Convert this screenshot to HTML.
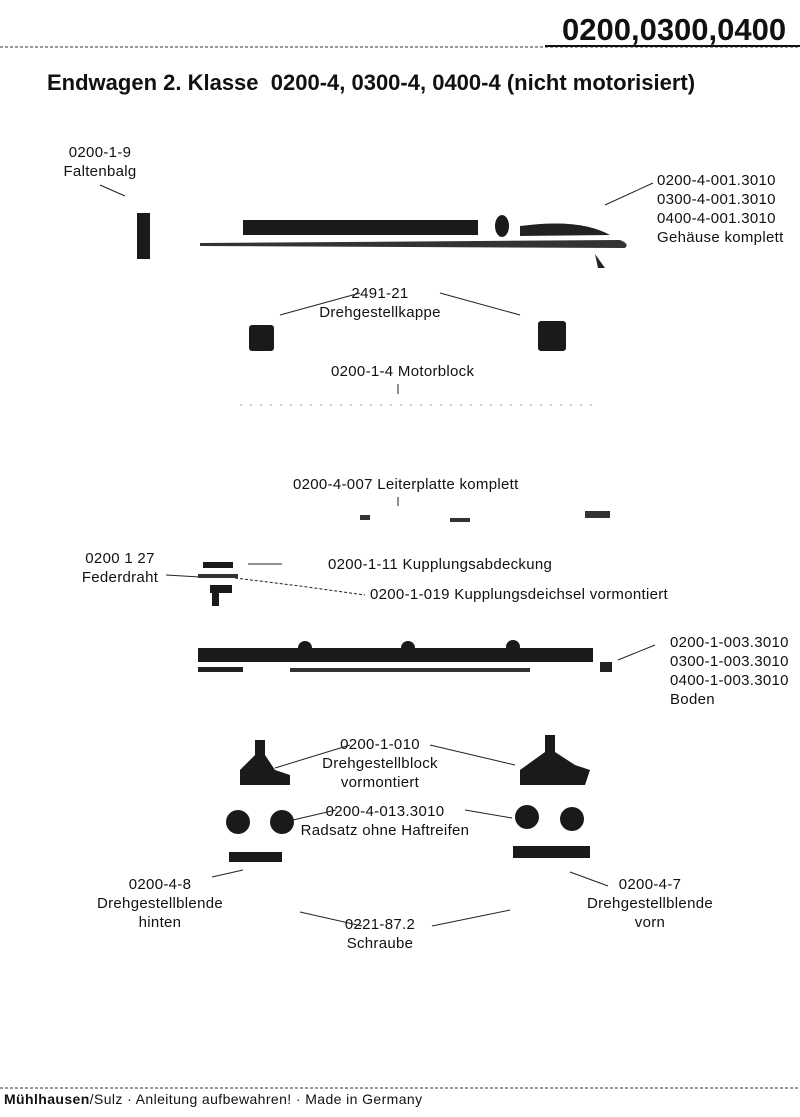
<!DOCTYPE html>
<html><head><meta charset="utf-8"><style>
body{margin:0;width:800px;height:1117px;background:#fff;position:relative;overflow:hidden;font-family:"Liberation Sans",sans-serif;color:#111}
.t{position:absolute;font-size:15px;line-height:19px;white-space:nowrap;letter-spacing:0.3px}
.c{text-align:center}
svg{position:absolute;left:0;top:0}
</style></head><body>
<div class="t" style="left:562px;top:12px;font-size:31px;line-height:36px;font-weight:bold;letter-spacing:0">0200,0300,0400</div>
<div class="t" style="left:47px;top:70px;font-size:22px;line-height:26px;font-weight:bold;letter-spacing:0">Endwagen 2. Klasse&nbsp; 0200-4, 0300-4, 0400-4 (nicht motorisiert)</div>

<div class="t c" style="left:40px;top:143px;width:120px">0200-1-9<br>Faltenbalg</div>
<div class="t" style="left:657px;top:171px">0200-4-001.3010<br>0300-4-001.3010<br>0400-4-001.3010<br>Gehäuse komplett</div>
<div class="t c" style="left:310px;top:284px;width:140px">2491-21<br>Drehgestellkappe</div>
<div class="t" style="left:331px;top:362px">0200-1-4 Motorblock</div>
<div class="t" style="left:293px;top:475px">0200-4-007 Leiterplatte komplett</div>
<div class="t c" style="left:70px;top:549px;width:100px">0200 1 27<br>Federdraht</div>
<div class="t" style="left:328px;top:555px">0200-1-11 Kupplungsabdeckung</div>
<div class="t" style="left:370px;top:585px">0200-1-019 Kupplungsdeichsel vormontiert</div>
<div class="t" style="left:670px;top:633px">0200-1-003.3010<br>0300-1-003.3010<br>0400-1-003.3010<br>Boden</div>
<div class="t c" style="left:310px;top:735px;width:140px">0200-1-010<br>Drehgestellblock<br>vormontiert</div>
<div class="t c" style="left:300px;top:802px;width:170px">0200-4-013.3010<br>Radsatz ohne Haftreifen</div>
<div class="t c" style="left:85px;top:875px;width:150px">0200-4-8<br>Drehgestellblende<br>hinten</div>
<div class="t c" style="left:575px;top:875px;width:150px">0200-4-7<br>Drehgestellblende<br>vorn</div>
<div class="t c" style="left:335px;top:915px;width:90px">0221-87.2<br>Schraube</div>
<div class="t" style="left:4px;top:1090px;font-size:14px;letter-spacing:0.4px"><b>Mühlhausen</b>/Sulz · Anleitung aufbewahren! · Made in Germany</div>

<svg width="800" height="1117">
<line x1="0" y1="47" x2="800" y2="47" stroke="#333" stroke-dasharray="3,2"/>
<line x1="545" y1="46" x2="800" y2="46" stroke="#111" stroke-width="2"/>
<line x1="0" y1="1088" x2="800" y2="1088" stroke="#333" stroke-dasharray="3,2"/>
<g stroke="#222" stroke-width="1" fill="none">
<line x1="100" y1="185" x2="125" y2="196"/>
<line x1="653" y1="183" x2="605" y2="205"/>
<line x1="360" y1="293" x2="280" y2="315"/>
<line x1="440" y1="293" x2="520" y2="315"/>
<line x1="398" y1="384" x2="398" y2="394"/>
<line x1="398" y1="497" x2="398" y2="506"/>
<line x1="248" y1="564" x2="282" y2="564"/>
<line x1="166" y1="575" x2="200" y2="577"/>
<path d="M235 578 L300 586 L365 595" stroke-dasharray="3,2"/>
<line x1="655" y1="645" x2="618" y2="660"/>
<line x1="350" y1="745" x2="275" y2="768"/>
<line x1="430" y1="745" x2="515" y2="765"/>
<line x1="336" y1="810" x2="293" y2="820"/>
<line x1="465" y1="810" x2="512" y2="818"/>
<line x1="212" y1="877" x2="243" y2="870"/>
<line x1="608" y1="886" x2="570" y2="872"/>
<line x1="300" y1="912" x2="362" y2="926"/>
<line x1="510" y1="910" x2="432" y2="926"/>
</g>
<rect x="137" y="213" width="13" height="46" fill="#1a1a1a"/>
<rect x="243" y="220" width="235" height="15" fill="#1a1a1a"/>
<ellipse cx="502" cy="226" rx="7" ry="11" fill="#1a1a1a"/>
<path d="M520 226 Q580 218 610 235 L520 236Z" fill="#222"/>
<path d="M200 243 L620 240 Q630 244 625 248 L200 246Z" fill="#333"/>
<path d="M595 254 L605 268 L598 268Z" fill="#222"/>
<rect x="249" y="325" width="25" height="26" rx="3" fill="#1a1a1a"/>
<rect x="538" y="321" width="28" height="30" rx="3" fill="#1a1a1a"/>
<path d="M240 405 L600 405" stroke="#999" stroke-dasharray="2,8"/>
<rect x="450" y="518" width="20" height="4" fill="#333"/>
<rect x="585" y="511" width="25" height="7" fill="#333"/>
<rect x="360" y="515" width="10" height="5" fill="#333"/>
<rect x="203" y="562" width="30" height="6" fill="#1a1a1a"/>
<rect x="198" y="574" width="40" height="4" fill="#333"/>
<rect x="210" y="585" width="22" height="8" fill="#1a1a1a"/>
<rect x="212" y="592" width="7" height="14" fill="#1a1a1a"/>
<rect x="198" y="648" width="395" height="14" fill="#1a1a1a"/>
<circle cx="305" cy="648" r="7" fill="#1a1a1a"/><circle cx="408" cy="648" r="7" fill="#1a1a1a"/><circle cx="513" cy="647" r="7" fill="#1a1a1a"/>
<rect x="198" y="667" width="45" height="5" fill="#222"/>
<rect x="290" y="668" width="240" height="4" fill="#333"/>
<rect x="600" y="662" width="12" height="10" fill="#222"/>
<path d="M255 740 L265 740 L265 755 L275 770 L290 775 L290 785 L240 785 L240 770 L255 755Z" fill="#1a1a1a"/>
<path d="M545 735 L555 735 L555 752 L575 765 L590 770 L585 785 L520 785 L520 770 L545 752Z" fill="#1a1a1a"/>
<circle cx="238" cy="822" r="12" fill="#1a1a1a"/><circle cx="282" cy="822" r="12" fill="#1a1a1a"/>
<circle cx="527" cy="817" r="12" fill="#1a1a1a"/><circle cx="572" cy="819" r="12" fill="#1a1a1a"/>
<rect x="229" y="852" width="53" height="10" fill="#1a1a1a"/>
<rect x="513" y="846" width="77" height="12" fill="#1a1a1a"/>
</svg>
</body></html>
